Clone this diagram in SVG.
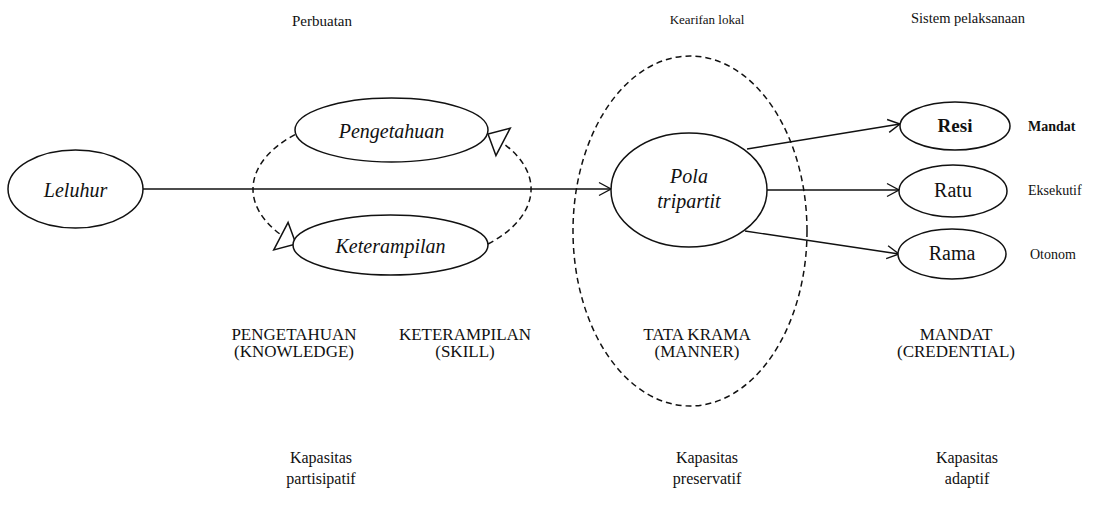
<svg xmlns="http://www.w3.org/2000/svg" width="1096" height="511" viewBox="0 0 1096 511">
<style>
text{font-family:'Liberation Serif','Tinos','Times New Roman','DejaVu Serif',serif;fill:#111;text-anchor:middle}
.it{font-style:italic;font-size:20px}
.node{fill:#fff;stroke:#111;stroke-width:1.5}
.lbl{font-size:17px}
.cap{font-size:16px}
.top{font-size:14px}
.side{font-size:14px;text-anchor:start}
.con{fill:none;stroke:#111;stroke-width:1.4}
.dash{fill:none;stroke:#111;stroke-width:1.5;stroke-dasharray:6 4}
</style>
<defs>
<marker id="open" markerUnits="userSpaceOnUse" markerWidth="14" markerHeight="16" refX="12" refY="7" orient="auto" overflow="visible">
<path d="M0,0.5 L12,7 L0,13.5" fill="none" stroke="#111" stroke-width="1.4"/>
</marker>
<marker id="tri" markerUnits="userSpaceOnUse" markerWidth="20" markerHeight="34" refX="17" refY="16" orient="auto" overflow="visible">
<path d="M0,0.5 L17,16 L0,31.5 Z" fill="#fff" stroke="#111" stroke-width="1.5"/>
</marker>
</defs>
<rect width="1096" height="511" fill="#fff"/>

<g id="headers">
<text class="top" x="322" y="26" style="font-size:15px">Perbuatan</text>
<text class="top" x="707" y="24" style="font-size:13px">Kearifan lokal</text>
<text class="top" x="968" y="23" style="font-size:14.5px">Sistem pelaksanaan</text>
</g>

<g id="kearifan-region">
<ellipse class="dash" cx="690" cy="231" rx="117" ry="175"/>
</g>

<g id="connectors">
<line class="con" x1="143" y1="189" x2="611" y2="189" marker-end="url(#open)"/>
<line class="con" x1="747" y1="149" x2="900" y2="124" marker-end="url(#open)"/>
<line class="con" x1="767" y1="190" x2="899" y2="190" marker-end="url(#open)"/>
<line class="con" x1="745" y1="231" x2="899" y2="254" marker-end="url(#open)"/>
<path class="dash" d="M295,134.6 A139,76 0 0 0 296,244" marker-end="url(#tri)"/>
<path class="dash" d="M488,244 A139,76 0 0 0 488,134" marker-end="url(#tri)"/>
</g>

<g id="leluhur">
<ellipse class="node" cx="75.5" cy="189" rx="67.5" ry="39"/>
<text class="it" x="75.5" y="197">Leluhur</text>
</g>

<g id="pengetahuan">
<ellipse class="node" cx="391.5" cy="130" rx="96.5" ry="32"/>
<text class="it" x="391.5" y="138">Pengetahuan</text>
</g>

<g id="keterampilan">
<ellipse class="node" cx="390.5" cy="245" rx="97.5" ry="30"/>
<text class="it" x="390.5" y="253">Keterampilan</text>
</g>

<g id="pola-tripartit">
<ellipse class="node" cx="689" cy="190" rx="78" ry="57"/>
<text class="it" x="689" y="183">Pola</text>
<text class="it" x="689" y="208">tripartit</text>
</g>

<g id="resi">
<ellipse class="node" cx="955" cy="126" rx="55" ry="24"/>
<text x="955" y="132" style="font-size:19px;font-weight:bold">Resi</text>
<text class="side" x="1028" y="131" style="font-weight:bold">Mandat</text>
</g>

<g id="ratu">
<ellipse class="node" cx="953" cy="191" rx="54" ry="26"/>
<text x="953" y="197" style="font-size:20px">Ratu</text>
<text class="side" x="1028" y="195">Eksekutif</text>
</g>

<g id="rama">
<ellipse class="node" cx="952" cy="254" rx="54" ry="25"/>
<text x="952" y="260" style="font-size:20px">Rama</text>
<text class="side" x="1030" y="259">Otonom</text>
</g>

<g id="category-labels">
<text class="lbl" x="294" y="340">PENGETAHUAN</text>
<text class="lbl" x="294" y="357">(KNOWLEDGE)</text>
<text class="lbl" x="465" y="340">KETERAMPILAN</text>
<text class="lbl" x="465" y="357">(SKILL)</text>
<text class="lbl" x="697" y="340">TATA KRAMA</text>
<text class="lbl" x="697" y="357">(MANNER)</text>
<text class="lbl" x="956" y="340">MANDAT</text>
<text class="lbl" x="956" y="357">(CREDENTIAL)</text>
</g>

<g id="capacity-labels">
<text class="cap" x="321" y="463">Kapasitas</text>
<text class="cap" x="321" y="484">partisipatif</text>
<text class="cap" x="707" y="463">Kapasitas</text>
<text class="cap" x="707" y="484">preservatif</text>
<text class="cap" x="967" y="463">Kapasitas</text>
<text class="cap" x="967" y="484">adaptif</text>
</g>
</svg>
